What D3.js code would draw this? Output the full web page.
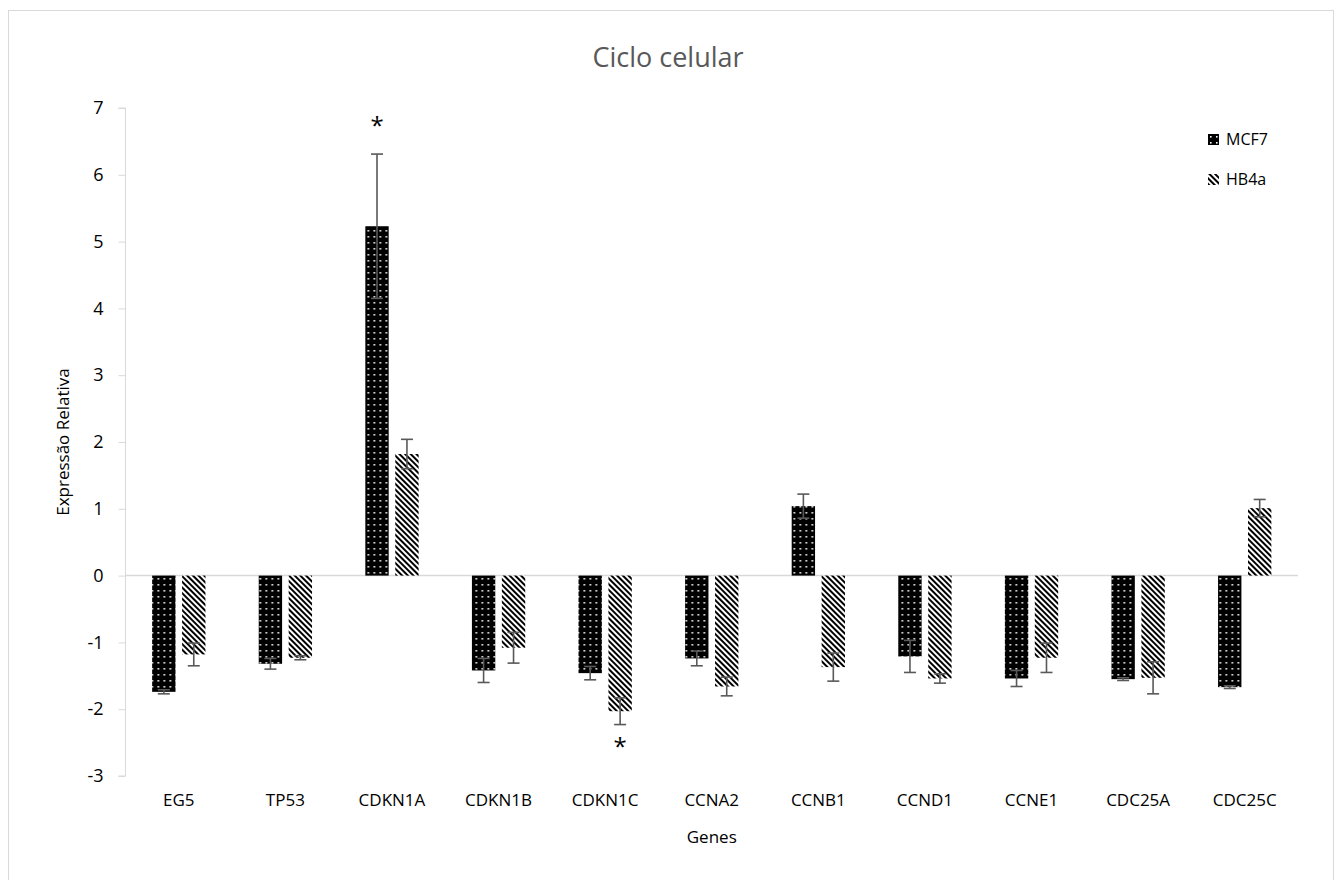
<!DOCTYPE html>
<html>
<head>
<meta charset="utf-8">
<script src="https://cdn.jsdelivr.net/npm/d3@7"></script>
<style>
  body { margin: 0; background: #fff; }
  svg { display: block; font-family: "Open Sans", "Liberation Sans", sans-serif; }
</style>
</head>
<body>
<div id="chart"></div>
<script>
// data
var genes = ["EG5", "TP53", "CDKN1A", "CDKN1B", "CDKN1C", "CCNA2", "CCNB1", "CCND1", "CCNE1", "CDC25A", "CDC25C"];
var seriesNames = ["MCF7", "HB4a"];
var mcf7 = [-1.74, -1.32, 5.23, -1.42, -1.46, -1.24, 1.04, -1.21, -1.54, -1.55, -1.67];
var mcf7Err = [0.03, 0.08, 1.08, 0.18, 0.10, 0.11, 0.18, 0.24, 0.12, 0.02, 0.02];
var hb4a = [-1.18, -1.23, 1.82, -1.08, -2.03, -1.66, -1.37, -1.54, -1.23, -1.53, 1.01];
var hb4aErr = [0.17, 0.03, 0.22, 0.23, 0.20, 0.14, 0.21, 0.07, 0.22, 0.24, 0.13];
var yTicks = [-3, -2, -1, 0, 1, 2, 3, 4, 5, 6, 7];
// significance marks: [gene index, series index]
var stars = [[2, 0], [4, 1]];

var svgWidth = 1336, svgHeight = 880;
var margin = { top: 108, right: 38, bottom: 104, left: 125.5 };
var width = svgWidth - margin.left - margin.right;
var height = svgHeight - margin.top - margin.bottom;

var svg = d3.select("#chart").append("svg")
  .attr("width", svgWidth)
  .attr("height", svgHeight);

// patterns
var defs = svg.append("defs");
var dots = defs.append("pattern")
  .attr("id", "dots")
  .attr("patternUnits", "userSpaceOnUse")
  .attr("width", 6).attr("height", 6);
dots.append("rect").attr("width", 6).attr("height", 6).attr("fill", "#000");
dots.append("rect").attr("x", 2).attr("y", 2).attr("width", 1.6).attr("height", 1.6).attr("fill", "#fff");

var stripes = defs.append("pattern")
  .attr("id", "stripes")
  .attr("patternUnits", "userSpaceOnUse")
  .attr("width", 4).attr("height", 4)
  .attr("patternTransform", "rotate(-45)");
stripes.append("rect").attr("width", 4).attr("height", 4).attr("fill", "#fff");
stripes.append("rect").attr("width", 2).attr("height", 4).attr("fill", "#000");

var fills = ["url(#dots)", "url(#stripes)"];

// outer border
svg.append("rect")
  .attr("x", 8.5).attr("y", 10.5)
  .attr("width", 1325).attr("height", 880)
  .attr("fill", "none")
  .attr("stroke", "#d9d9d9");

var chartGroup = svg.append("g")
  .attr("transform", `translate(${margin.left}, ${margin.top})`);

var x0 = d3.scaleBand().domain(genes).range([0, width]).paddingInner(0).paddingOuter(0);
var x1 = d3.scaleBand().domain(seriesNames).range([x0.bandwidth() * 0.25, x0.bandwidth() * 0.75]).paddingInner(0.22);
var y = d3.scaleLinear().domain([-3, 7]).range([height, 0]);

// y axis
var leftAxis = d3.axisLeft(y).tickValues(yTicks).tickSize(7).tickPadding(15).tickFormat(d => String(d));
var yAxisG = chartGroup.append("g").call(leftAxis);
yAxisG.select(".domain").attr("stroke", "#d9d9d9").attr("d", `M-7,${y(-3)}H0V${y(7)}H-7`);
yAxisG.selectAll(".tick line").attr("stroke", "#d9d9d9");
yAxisG.selectAll(".tick text").attr("font-size", 18).attr("fill", "#000");
yAxisG.attr("font-family", null);

// zero line
chartGroup.append("line")
  .attr("x1", 0).attr("x2", width)
  .attr("y1", y(0)).attr("y2", y(0))
  .attr("stroke", "#d9d9d9").attr("stroke-width", 1.5);

var data = genes.map(function(g, i) {
  return [
    { gene: g, s: "MCF7", v: mcf7[i], e: mcf7Err[i], k: 0 },
    { gene: g, s: "HB4a", v: hb4a[i], e: hb4aErr[i], k: 1 }
  ];
});
var flat = data.flat();

// bars
chartGroup.selectAll(".bar")
  .data(flat)
  .enter()
  .append("rect")
  .attr("class", "bar")
  .attr("x", d => x0(d.gene) + x1(d.s))
  .attr("width", x1.bandwidth())
  .attr("y", d => y(Math.max(0, d.v)))
  .attr("height", d => Math.abs(y(d.v) - y(0)))
  .attr("fill", d => fills[d.k]);

// error bars
var errG = chartGroup.selectAll(".err")
  .data(flat)
  .enter()
  .append("g")
  .attr("class", "err")
  .attr("stroke", "#595959")
  .attr("stroke-width", 1.6);
errG.append("line")
  .attr("x1", d => x0(d.gene) + x1(d.s) + x1.bandwidth() / 2)
  .attr("x2", d => x0(d.gene) + x1(d.s) + x1.bandwidth() / 2)
  .attr("y1", d => y(d.v + d.e))
  .attr("y2", d => y(d.v - d.e));
[1, -1].forEach(function(sign) {
  errG.append("line")
    .attr("x1", d => x0(d.gene) + x1(d.s) + x1.bandwidth() / 2 - 6)
    .attr("x2", d => x0(d.gene) + x1(d.s) + x1.bandwidth() / 2 + 6)
    .attr("y1", d => y(d.v + sign * d.e))
    .attr("y2", d => y(d.v + sign * d.e));
});

// significance stars
stars.forEach(function(s) {
  var d = data[s[0]][s[1]];
  var cx = x0(d.gene) + x1(d.s) + x1.bandwidth() / 2;
  var yy = d.v > 0 ? y(d.v + d.e) - 20 : y(d.v - d.e) + 30;
  chartGroup.append("text")
    .attr("x", cx).attr("y", yy)
    .attr("text-anchor", "middle")
    .attr("font-size", 24)
    .attr("fill", "#000")
    .text("*");
});

// x labels
chartGroup.selectAll(".xlab")
  .data(genes)
  .enter()
  .append("text")
  .attr("class", "xlab")
  .attr("x", d => x0(d) + x0.bandwidth() / 2)
  .attr("y", height + 30)
  .attr("text-anchor", "middle")
  .attr("font-size", 17)
  .attr("fill", "#000")
  .text(d => d);

// axis titles
chartGroup.append("text")
  .attr("x", width / 2)
  .attr("y", height + 67)
  .attr("text-anchor", "middle")
  .attr("font-size", 17)
  .attr("fill", "#000")
  .text("Genes");

chartGroup.append("text")
  .attr("transform", "rotate(-90)")
  .attr("x", -height / 2)
  .attr("y", -57)
  .attr("text-anchor", "middle")
  .attr("font-size", 17)
  .attr("fill", "#000")
  .text("Expressão Relativa");

// title
svg.append("text")
  .attr("x", 668)
  .attr("y", 67)
  .attr("text-anchor", "middle")
  .attr("font-size", 27)
  .attr("fill", "#595959")
  .text("Ciclo celular");

// legend
var legend = svg.selectAll(".legend")
  .data(seriesNames)
  .enter()
  .append("g")
  .attr("class", "legend")
  .attr("transform", (d, i) => `translate(1208, ${134 + i * 40})`);
legend.append("rect")
  .attr("width", 11).attr("height", 11)
  .attr("fill", (d, i) => fills[i]);
legend.append("text")
  .attr("x", 18).attr("y", 11)
  .attr("font-size", 16)
  .attr("fill", "#000")
  .text(d => d);
</script>
</body>
</html>
